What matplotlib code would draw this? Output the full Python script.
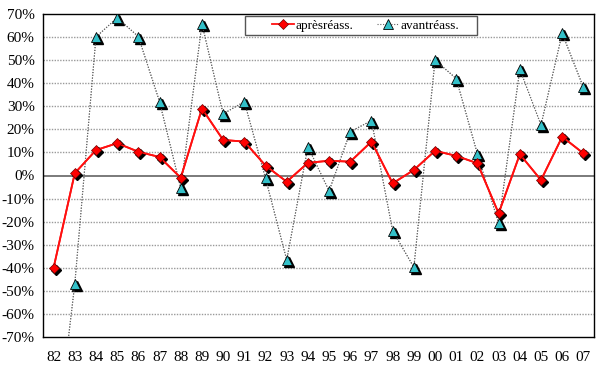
import matplotlib
matplotlib.use("Agg")
import matplotlib.pyplot as plt
from matplotlib.transforms import offset_copy
from matplotlib.patches import Rectangle
import numpy as np

years = ["82", "83", "84", "85", "86", "87", "88", "89", "90", "91", "92", "93", "94",
         "95", "96", "97", "98", "99", "00", "01", "02", "03", "04", "05", "06", "07"]
apres = [-40, 1, 11, 14, 10.3, 8, -1, 29, 15.4, 14.7, 4.3, -2.7, 5.5, 6.4, 6, 14.7,
         -3.4, 2.4, 10.7, 8.5, 5.3, -16.4, 9.2, -2, 16.8, 9.6]
avant = [-125, -47, 60, 68.4, 60.2, 32, -5.5, 65.7, 26.7, 32, -1.2, -36.6, 12.5, -6.7,
         19, 23.8, -24, -39.8, 50, 42, 9.3, -20.7, 46, 21.9, 61.6, 38.2]
yticks = list(range(-70, 71, 10))

plt.rcParams['font.family'] = ['Liberation Serif', 'DejaVu Serif']

fig = plt.figure(figsize=(6.11, 3.79), dpi=100)
ax = fig.add_axes([43/611, 1-337/379, 551/611, 323/379])

x = np.arange(len(years))
ax.set_xlim(-0.5, len(years) - 0.5)
ax.set_ylim(-70, 70)

for v in yticks:
    if v == 0:
        ax.axhline(0, color='#707070', lw=1.3, zorder=1)
    elif abs(v) != 70:
        ax.axhline(v, color='#9a9a9a', lw=1.0, ls=(0, (1, 1)), zorder=1)

shadow = offset_copy(ax.transData, fig=fig, x=2, y=-2, units='dots')

ax.plot(x, avant, color='#666666', lw=0.8, ls=(0, (1, 1.5)), zorder=2)
ax.plot(x, avant, ls='none', marker='^', ms=6.5, color='black', transform=shadow, zorder=3)
l2, = ax.plot(x, avant, color='#666666', lw=0.8, ls=(0, (1, 1.5)), marker='^', ms=6.5,
              mfc='#33c0c8', mec='black', mew=0.6, zorder=4, label='avantréass.')

ax.plot(x, apres, color='#ff1010', lw=1.3, zorder=5)
ax.plot(x, apres, ls='none', marker='D', ms=5.2, color='black', transform=shadow, zorder=6)
l1, = ax.plot(x, apres, color='#ff1010', lw=1.3, marker='D', ms=5.2,
              mfc='#ff0000', mec='#700000', mew=0.5, zorder=7, label='aprèsréass.')

ax.set_xticks(x)
ax.set_xticklabels(years, fontsize=11)
ax.set_yticks(yticks)
ax.set_yticklabels([f"{v}%" for v in yticks], fontsize=11)
ax.tick_params(length=0, pad=6)
ax.tick_params(axis='x', pad=10)

for s in ax.spines.values():
    s.set_color('black')
    s.set_linewidth(1.0)

# legend box
bx0 = (245 - 43) / 551
bw = (477 - 245) / 551
by1 = (337 - 16) / 323
bh = 19 / 323
ax.add_patch(Rectangle((bx0, by1 - bh), bw, bh, transform=ax.transAxes,
                       facecolor='white', edgecolor='#555555', lw=1.0, zorder=9,
                       clip_on=False))
leg = ax.legend(handles=[l1, l2], ncol=2, loc='center left',
                bbox_to_anchor=((272 - 43) / 551, (337 - 25.5) / 323),
                borderaxespad=0, borderpad=0, fontsize=9.5, frameon=False,
                handlelength=1.65, columnspacing=1.75, handletextpad=0.15)
leg.set_zorder(10)

fig.savefig("out.png", dpi=100)
